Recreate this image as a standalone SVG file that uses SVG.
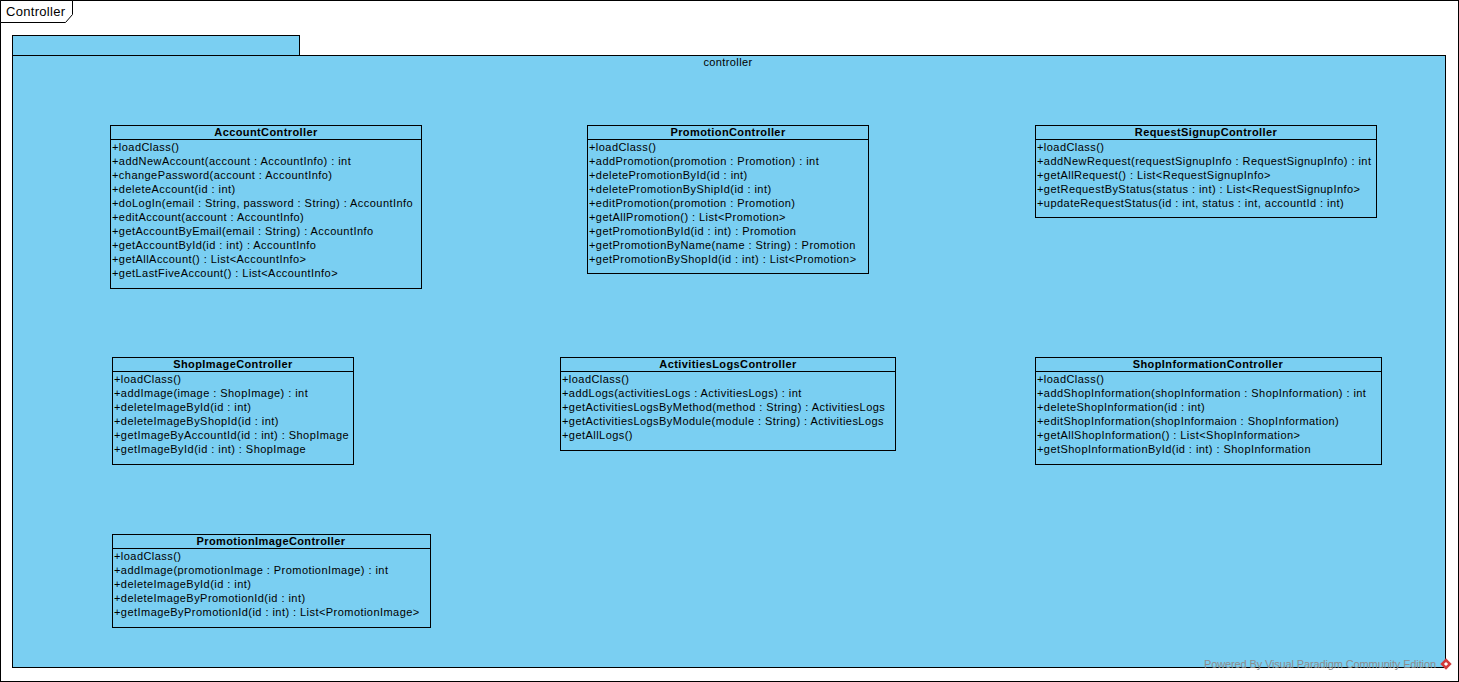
<svg xmlns="http://www.w3.org/2000/svg" width="1459" height="682" viewBox="0 0 1459 682">
  <style>
    .frame { fill: #ffffff; stroke: #000000; stroke-width: 1; }
    .pkg { fill: #7acff2; stroke: #000000; stroke-width: 1; }
    .cls { fill: #7acff2; stroke: #000000; stroke-width: 1; }
    .sep { stroke: #000000; stroke-width: 1; }
    .title { font-family: "Liberation Sans", Arial, sans-serif; font-size: 11px; font-weight: bold; letter-spacing: 0.4px; text-anchor: middle; fill: #000000; }
    .op { font-family: "Liberation Sans", Arial, sans-serif; font-size: 11px; letter-spacing: 0.45px; fill: #000000; }
    .label { font-family: "Liberation Sans", Arial, sans-serif; font-size: 11px; letter-spacing: 0.4px; fill: #000000; }
    .frame-label { font-family: "Liberation Sans", Arial, sans-serif; font-size: 13px; letter-spacing: 0.3px; fill: #000000; }
    .wm { font-family: "Liberation Sans", Arial, sans-serif; font-size: 11px; fill: #8c8c8c; }
  </style>

  <!-- diagram frame -->
  <rect class="frame" x="0.5" y="0.5" width="1458" height="681"/>
  <path class="frame" d="M0.5 0.5 H72.5 V14.5 L65.5 22.5 H0.5 Z"/>
  <text class="frame-label" x="6" y="16">Controller</text>

  <!-- package "controller" -->
  <g id="pkg-controller">
    <rect class="pkg" x="12.5" y="35.5" width="287" height="20"/>
    <rect class="pkg" x="12.5" y="55.5" width="1433" height="612"/>
    <text class="label" x="728" y="66" text-anchor="middle">controller</text>
  </g>

  <!-- connectors (none drawn between classes) -->
  <g id="connectors"/>

  <g id="AccountController">
    <rect class="cls" x="110.5" y="125.5" width="311" height="163"/>
    <line class="sep" x1="110.5" y1="139.5" x2="421.5" y2="139.5"/>
    <text class="title" x="266" y="136">AccountController</text>
    <text class="op" x="112" y="151">+loadClass()</text>
    <text class="op" x="112" y="165">+addNewAccount(account : AccountInfo) : int</text>
    <text class="op" x="112" y="179">+changePassword(account : AccountInfo)</text>
    <text class="op" x="112" y="193">+deleteAccount(id : int)</text>
    <text class="op" x="112" y="207">+doLogIn(email : String, password : String) : AccountInfo</text>
    <text class="op" x="112" y="221">+editAccount(account : AccountInfo)</text>
    <text class="op" x="112" y="235">+getAccountByEmail(email : String) : AccountInfo</text>
    <text class="op" x="112" y="249">+getAccountById(id : int) : AccountInfo</text>
    <text class="op" x="112" y="263">+getAllAccount() : List&lt;AccountInfo&gt;</text>
    <text class="op" x="112" y="277">+getLastFiveAccount() : List&lt;AccountInfo&gt;</text>
  </g>

  <g id="PromotionController">
    <rect class="cls" x="587.5" y="125.5" width="281" height="148"/>
    <line class="sep" x1="587.5" y1="139.5" x2="868.5" y2="139.5"/>
    <text class="title" x="728" y="136">PromotionController</text>
    <text class="op" x="589" y="151">+loadClass()</text>
    <text class="op" x="589" y="165">+addPromotion(promotion : Promotion) : int</text>
    <text class="op" x="589" y="179">+deletePromotionById(id : int)</text>
    <text class="op" x="589" y="193">+deletePromotionByShipId(id : int)</text>
    <text class="op" x="589" y="207">+editPromotion(promotion : Promotion)</text>
    <text class="op" x="589" y="221">+getAllPromotion() : List&lt;Promotion&gt;</text>
    <text class="op" x="589" y="235">+getPromotionById(id : int) : Promotion</text>
    <text class="op" x="589" y="249">+getPromotionByName(name : String) : Promotion</text>
    <text class="op" x="589" y="263">+getPromotionByShopId(id : int) : List&lt;Promotion&gt;</text>
  </g>

  <g id="RequestSignupController">
    <rect class="cls" x="1035.5" y="125.5" width="341" height="92"/>
    <line class="sep" x1="1035.5" y1="139.5" x2="1376.5" y2="139.5"/>
    <text class="title" x="1206" y="136">RequestSignupController</text>
    <text class="op" x="1037" y="151">+loadClass()</text>
    <text class="op" x="1037" y="165">+addNewRequest(requestSignupInfo : RequestSignupInfo) : int</text>
    <text class="op" x="1037" y="179">+getAllRequest() : List&lt;RequestSignupInfo&gt;</text>
    <text class="op" x="1037" y="193">+getRequestByStatus(status : int) : List&lt;RequestSignupInfo&gt;</text>
    <text class="op" x="1037" y="207">+updateRequestStatus(id : int, status : int, accountId : int)</text>
  </g>

  <g id="ShopImageController">
    <rect class="cls" x="112.5" y="357.5" width="241" height="107"/>
    <line class="sep" x1="112.5" y1="371.5" x2="353.5" y2="371.5"/>
    <text class="title" x="233" y="368">ShopImageController</text>
    <text class="op" x="114" y="383">+loadClass()</text>
    <text class="op" x="114" y="397">+addImage(image : ShopImage) : int</text>
    <text class="op" x="114" y="411">+deleteImageById(id : int)</text>
    <text class="op" x="114" y="425">+deleteImageByShopId(id : int)</text>
    <text class="op" x="114" y="439">+getImageByAccountId(id : int) : ShopImage</text>
    <text class="op" x="114" y="453">+getImageById(id : int) : ShopImage</text>
  </g>

  <g id="ActivitiesLogsController">
    <rect class="cls" x="560.5" y="357.5" width="335" height="93"/>
    <line class="sep" x1="560.5" y1="371.5" x2="895.5" y2="371.5"/>
    <text class="title" x="728" y="368">ActivitiesLogsController</text>
    <text class="op" x="562" y="383">+loadClass()</text>
    <text class="op" x="562" y="397">+addLogs(activitiesLogs : ActivitiesLogs) : int</text>
    <text class="op" x="562" y="411">+getActivitiesLogsByMethod(method : String) : ActivitiesLogs</text>
    <text class="op" x="562" y="425">+getActivitiesLogsByModule(module : String) : ActivitiesLogs</text>
    <text class="op" x="562" y="439">+getAllLogs()</text>
  </g>

  <g id="ShopInformationController">
    <rect class="cls" x="1035.5" y="357.5" width="346" height="107"/>
    <line class="sep" x1="1035.5" y1="371.5" x2="1381.5" y2="371.5"/>
    <text class="title" x="1208" y="368">ShopInformationController</text>
    <text class="op" x="1037" y="383">+loadClass()</text>
    <text class="op" x="1037" y="397">+addShopInformation(shopInformation : ShopInformation) : int</text>
    <text class="op" x="1037" y="411">+deleteShopInformation(id : int)</text>
    <text class="op" x="1037" y="425">+editShopInformation(shopInformaion : ShopInformation)</text>
    <text class="op" x="1037" y="439">+getAllShopInformation() : List&lt;ShopInformation&gt;</text>
    <text class="op" x="1037" y="453">+getShopInformationById(id : int) : ShopInformation</text>
  </g>

  <g id="PromotionImageController">
    <rect class="cls" x="112.5" y="534.5" width="318" height="93"/>
    <line class="sep" x1="112.5" y1="548.5" x2="430.5" y2="548.5"/>
    <text class="title" x="271" y="545">PromotionImageController</text>
    <text class="op" x="114" y="560">+loadClass()</text>
    <text class="op" x="114" y="574">+addImage(promotionImage : PromotionImage) : int</text>
    <text class="op" x="114" y="588">+deleteImageById(id : int)</text>
    <text class="op" x="114" y="602">+deleteImageByPromotionId(id : int)</text>
    <text class="op" x="114" y="616">+getImageByPromotionId(id : int) : List&lt;PromotionImage&gt;</text>
  </g>

  <!-- edition mark -->
  <text class="wm" x="1204" y="668" textLength="232" lengthAdjust="spacing">Powered By Visual Paradigm Community Edition</text>
  <g id="edition-logo">
    <rect x="1442" y="660" width="8" height="8" fill="#d23a3a" transform="rotate(45 1446 664)"/>
    <rect x="1444.5" y="662.5" width="3" height="3" fill="#ffffff" transform="rotate(45 1446 664)"/>
  </g>
</svg>
